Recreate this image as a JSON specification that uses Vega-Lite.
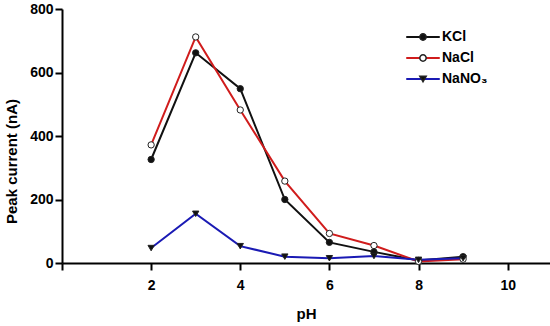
{
  "$schema": "https://vega.github.io/schema/vega-lite/v6.json",
  "width": 488,
  "height": 254,
  "autosize": {"type": "none"},
  "padding": {"left": 62, "top": 9, "right": 0, "bottom": 63},
  "background": "white",
  "config": {
    "font": "Liberation Sans",
    "view": {"stroke": null},
    "axis": {
      "grid": false,
      "domainColor": "black",
      "domainWidth": 2,
      "tickColor": "black",
      "tickWidth": 2,
      "labelFont": "Liberation Sans",
      "labelFontWeight": "bold",
      "labelFontSize": 14,
      "labelColor": "black",
      "titleFont": "Liberation Sans",
      "titleFontWeight": "bold",
      "titleFontSize": 15,
      "titleColor": "black"
    },
    "legend": {
      "labelFont": "Liberation Sans",
      "labelFontWeight": "bold",
      "labelFontSize": 14,
      "labelColor": "black",
      "padding": 0
    }
  },
  "data": {
    "values": [
      {"pH": 2, "series": "KCl", "current": 326},
      {"pH": 3, "series": "KCl", "current": 662},
      {"pH": 4, "series": "KCl", "current": 549},
      {"pH": 5, "series": "KCl", "current": 200},
      {"pH": 6, "series": "KCl", "current": 65},
      {"pH": 7, "series": "KCl", "current": 35},
      {"pH": 8, "series": "KCl", "current": 8},
      {"pH": 9, "series": "KCl", "current": 20},
      {"pH": 2, "series": "NaCl", "current": 372},
      {"pH": 3, "series": "NaCl", "current": 712},
      {"pH": 4, "series": "NaCl", "current": 482},
      {"pH": 5, "series": "NaCl", "current": 258},
      {"pH": 6, "series": "NaCl", "current": 93},
      {"pH": 7, "series": "NaCl", "current": 55},
      {"pH": 8, "series": "NaCl", "current": 5},
      {"pH": 9, "series": "NaCl", "current": 12},
      {"pH": 2, "series": "NaNO₃", "current": 47},
      {"pH": 3, "series": "NaNO₃", "current": 155},
      {"pH": 4, "series": "NaNO₃", "current": 53},
      {"pH": 5, "series": "NaNO₃", "current": 20},
      {"pH": 6, "series": "NaNO₃", "current": 15},
      {"pH": 7, "series": "NaNO₃", "current": 22},
      {"pH": 8, "series": "NaNO₃", "current": 10},
      {"pH": 9, "series": "NaNO₃", "current": 15}
    ]
  },
  "encoding": {
    "x": {
      "field": "pH", "type": "quantitative",
      "scale": {"domain": [0, 10.95], "nice": false, "zero": false},
      "axis": {
        "values": [0, 2, 4, 6, 8, 10],
        "labelExpr": "datum.value == 0 ? '' : datum.label",
        "tickSize": 7,
        "labelPadding": 8,
        "title": "pH",
        "titlePadding": 14
      }
    },
    "y": {
      "field": "current", "type": "quantitative",
      "scale": {"domain": [0, 800], "nice": false},
      "axis": {
        "values": [0, 200, 400, 600, 800],
        "tickSize": 7,
        "labelPadding": 2,
        "title": "Peak current  (nA)",
        "titlePadding": 10,
        "titleY": 152
      }
    }
  },
  "layer": [
    {
      "mark": {"type": "line", "strokeWidth": 2},
      "encoding": {
        "color": {
          "field": "series", "type": "nominal",
          "scale": {"domain": ["KCl", "NaCl", "NaNO₃"], "range": ["#111111", "#d01c1c", "#1a1ab4"]},
          "legend": {
            "title": null,
            "orient": "none",
            "legendX": 354,
            "legendY": 21,
            "symbolType": "M-5.3,0H5.3",
            "symbolSize": 40,
            "symbolStrokeWidth": 2,
            "labelOffset": 12,
            "rowPadding": 7
          }
        }
      }
    },
    {
      "mark": {"type": "point", "filled": true, "stroke": "#222222", "strokeWidth": 1, "opacity": 1},
      "encoding": {
        "shape": {
          "field": "series", "type": "nominal",
          "scale": {"range": ["circle", "circle", "triangle-down"]},
          "legend": {
            "title": null,
            "orient": "none",
            "legendX": 354,
            "legendY": 21,
            "labelOpacity": 0,
            "symbolSize": 40,
            "labelOffset": 12,
            "rowPadding": 7,
            "encode": {"symbols": {"update": {"stroke": {"value": "#222222"}, "strokeWidth": {"value": 1}}}}
          }
        },
        "fill": {
          "field": "series", "type": "nominal",
          "scale": {"range": ["#111111", "#ffffff", "#111111"]},
          "legend": {
            "title": null,
            "orient": "none",
            "legendX": 354,
            "legendY": 21,
            "labelOpacity": 0,
            "symbolSize": 40,
            "labelOffset": 12,
            "rowPadding": 7,
            "encode": {"symbols": {"update": {"stroke": {"value": "#222222"}, "strokeWidth": {"value": 1}}}}
          }
        },
        "size": {"value": 40}
      }
    }
  ]
}
